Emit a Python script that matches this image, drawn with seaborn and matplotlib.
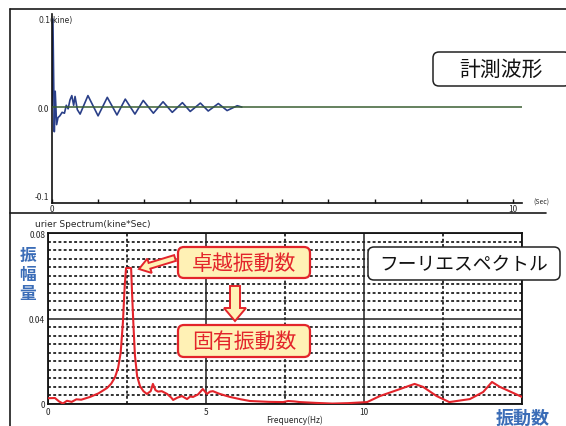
import numpy as np
import pandas as pd
import matplotlib
matplotlib.use("Agg")
import matplotlib.pyplot as plt
from matplotlib.patches import FancyBboxPatch, FancyArrow
from matplotlib.lines import Line2D
from matplotlib.transforms import Affine2D
from matplotlib.ticker import MultipleLocator, FixedLocator
import seaborn as sns

# ---- measured waveform (velocity, kine) ----
wave_t = [0.0, 0.02, 0.05, 0.07, 0.10, 0.13, 0.17, 0.22, 0.27, 0.31, 0.35, 0.39,
          0.43, 0.47, 0.50, 0.55, 0.61, 0.78, 1.00, 1.20, 1.41, 1.59, 1.80, 1.98,
          2.20, 2.41, 2.61, 2.83, 3.00, 3.22, 3.39, 3.61, 3.80, 4.02, 4.12]
wave_v = [0.0, 0.100, -0.028, 0.018, -0.020, -0.012, -0.010, -0.006, -0.007, 0.002,
          -0.002, 0.008, 0.013, 0.002, 0.012, -0.003, -0.008, 0.013, -0.010, 0.011,
          -0.009, 0.009, -0.008, 0.0075, -0.007, 0.006, -0.006, 0.005, -0.005, 0.0045,
          -0.0045, 0.004, -0.004, 0.0015, 0.0]

# ---- Fourier spectrum (kine*sec) ----
freq = [0.0, 0.22, 0.35, 0.47, 0.60, 0.75, 0.90, 1.05, 1.33, 1.60, 1.87, 2.00, 2.12,
        2.22, 2.30, 2.37, 2.43, 2.47, 2.63, 2.66, 2.70, 2.75, 2.82, 2.91, 3.02, 3.13,
        3.25, 3.32, 3.40, 3.48, 3.60, 3.77, 3.90, 3.96, 4.10, 4.24, 4.40, 4.50, 4.59,
        4.75, 4.90, 5.03, 5.13, 5.22, 5.35, 5.44, 5.76, 6.10, 6.39, 7.00, 7.44, 7.60,
        7.80, 7.97, 8.50, 9.00, 9.50, 10.10, 10.50, 11.14, 11.60, 11.87, 12.30, 12.70,
        13.35, 13.77, 14.05, 14.30, 14.60, 15.00]
amp = [0.0027, 0.0028, 0.0012, 0.0002, 0.0015, 0.0010, 0.0022, 0.0020, 0.0033, 0.0050,
       0.0075, 0.0095, 0.0125, 0.0170, 0.0240, 0.0380, 0.0560, 0.0636, 0.0636, 0.0520,
       0.0380, 0.0230, 0.0130, 0.0084, 0.0060, 0.0047, 0.0060, 0.0094, 0.0065, 0.0058,
       0.0060, 0.0047, 0.0030, 0.0019, 0.0030, 0.0037, 0.0023, 0.0035, 0.0033, 0.0045,
       0.0070, 0.0047, 0.0058, 0.0060, 0.0052, 0.0047, 0.0033, 0.0022, 0.0014, 0.0010,
       0.0009, 0.0014, 0.0012, 0.0009, 0.0005, 0.0002, 0.0004, 0.0009, 0.0037, 0.0070,
       0.0094, 0.0080, 0.0037, 0.0009, 0.0023, 0.0056, 0.0103, 0.0080, 0.0060, 0.0033]

wave_df = pd.DataFrame({"t": wave_t, "v": wave_v})
spec_df = pd.DataFrame({"f": freq, "a": amp})

sns.set_theme(style="white")
plt.rcParams["font.family"] = ["Noto Sans CJK JP", "DejaVu Sans"]

W, H = 566, 427
fig = plt.figure(figsize=(W / 100, H / 100), dpi=100)
fig.patch.set_facecolor("white")

# pixel space with origin at the top-left corner
px = Affine2D().scale(1, -1).translate(0, H)


def rect(x0, y0, x1, y1):
    return [x0 / W, 1 - y1 / H, (x1 - x0) / W, (y1 - y0) / H]


RED = "#e3242b"
CREAM = "#fff1b5"
BLUE = "#3b6db7"
NAVY = "#2a3f88"

# ---------------- upper panel: measured waveform ----------------
ax1 = fig.add_axes(rect(52, 15, 522, 204))
sns.lineplot(data=wave_df, x="t", y="v", ax=ax1, color=NAVY, lw=1.2, sort=False)
ax1.axhline(0, color="#3a5f33", lw=1.1, zorder=3)
ax1.set_xlim(0, 10.2)
ax1.set_ylim(-0.109, 0.1057)
for s in ("top", "right"):
    ax1.spines[s].set_visible(False)
for s in ("left", "bottom"):
    ax1.spines[s].set_color("#111111")
    ax1.spines[s].set_linewidth(1.2)
ax1.xaxis.set_major_locator(FixedLocator(range(0, 11)))
ax1.set_xticklabels(["0"] + [""] * 9 + ["10"])
ax1.tick_params(axis="x", direction="in", length=3, width=1, color="#111111",
                labelsize=6, pad=1, bottom=True)
ax1.set_yticks([-0.1, 0.0])
ax1.set_yticklabels(["-0.1", "0.0"])
ax1.tick_params(axis="y", length=0, labelsize=6, pad=2, left=False)
ax1.set_xlabel("")
ax1.set_ylabel("")
ax1.text(-0.3, 0.1, "0.1(kine)", fontsize=5.5, ha="left", va="center",
         family=["DejaVu Sans"])
ax1.text(10.45, -0.107, "(Sec)", fontsize=5, ha="left", va="center")

# ---------------- lower panel: Fourier spectrum ----------------
ax2 = fig.add_axes(rect(48, 234, 522, 405))
ax2.set_xlim(0, 15)
ax2.set_ylim(0, 0.08)
ax2.xaxis.set_major_locator(FixedLocator([0, 5, 10, 15]))
ax2.xaxis.set_minor_locator(MultipleLocator(2.5))
ax2.yaxis.set_major_locator(FixedLocator([0, 0.04, 0.08]))
ax2.yaxis.set_minor_locator(MultipleLocator(0.004))
ax2.grid(which="major", color="#222222", lw=1.1, ls="-")
ax2.grid(which="minor", color="#222222", lw=1.3, ls=(0, (1.6, 1.3)))
ax2.set_axisbelow(True)
sns.lineplot(data=spec_df, x="f", y="a", ax=ax2, color=RED, lw=1.5, zorder=5)
for s in ax2.spines.values():
    s.set_color("#111111")
    s.set_linewidth(1.3)
ax2.set_xticklabels(["0", "5", "10", ""])
ax2.set_yticklabels(["0", "0.04", "0.08"])
ax2.tick_params(which="both", length=0, labelsize=6, pad=2)
ax2.set_xlabel("")
ax2.set_ylabel("")
ax2.text(7.8, -0.0072, "Frequency(Hz)", fontsize=6, ha="center", va="center")
ax2.text(-0.42, 0.0845, "urier Spectrum(kine*Sec)", fontsize=6.5, ha="left",
         va="center", family=["DejaVu Sans"])

# ---------------- frames ----------------
for (x0, y0, x1, y1) in [(10, 10, 566, 10), (10, 10, 10, 427), (10, 214, 546, 214)]:
    fig.add_artist(Line2D([x0, x1], [y0, y1], transform=px, color="#1a1a1a", lw=1.2))

# ---------------- labels and callouts ----------------
def boxed(x0, y0, x1, y1, text, fc, ec, tc, size, lw=1.4):
    fig.add_artist(FancyBboxPatch((x0, y0), x1 - x0, y1 - y0,
                                  boxstyle="round,pad=0,rounding_size=6",
                                  transform=px, fc=fc, ec=ec, lw=lw, zorder=10))
    fig.text((x0 + x1) / 2 / W, 1 - (y0 + y1) / 2 / H, text, ha="center",
             va="center", fontsize=size, color=tc, zorder=11)


boxed(433, 53, 570, 87, "計測波形", "white", "#222222", "#111111", 15, lw=1.1)
boxed(368, 248, 560, 281, "フーリエスペクトル", "white", "#222222", "#111111", 13.5, lw=1.1)
boxed(178, 248, 310, 279, "卓越振動数", CREAM, RED, RED, 15, lw=1.6)
boxed(178, 326, 310, 358, "固有振動数", CREAM, RED, RED, 15, lw=1.6)

fig.add_artist(FancyArrow(175, 259, -36, 11, width=6, head_width=15, head_length=11,
                          length_includes_head=True, transform=px, fc=CREAM,
                          ec=RED, lw=1.4, zorder=12))
fig.add_artist(FancyArrow(235, 287, 0, 35, width=10, head_width=22, head_length=13,
                          length_includes_head=True, transform=px, fc=CREAM,
                          ec=RED, lw=1.4, zorder=12))

for i, ch in enumerate("振幅量"):
    fig.text(28 / W, 1 - (256 + i * 19) / H, ch, ha="center", va="center",
             fontsize=12, color=BLUE, fontweight="bold")
fig.text(523 / W, 1 - 418 / H, "振動数", ha="center", va="center",
         fontsize=13, color=BLUE, fontweight="bold")

fig.savefig("out.png", dpi=100)
